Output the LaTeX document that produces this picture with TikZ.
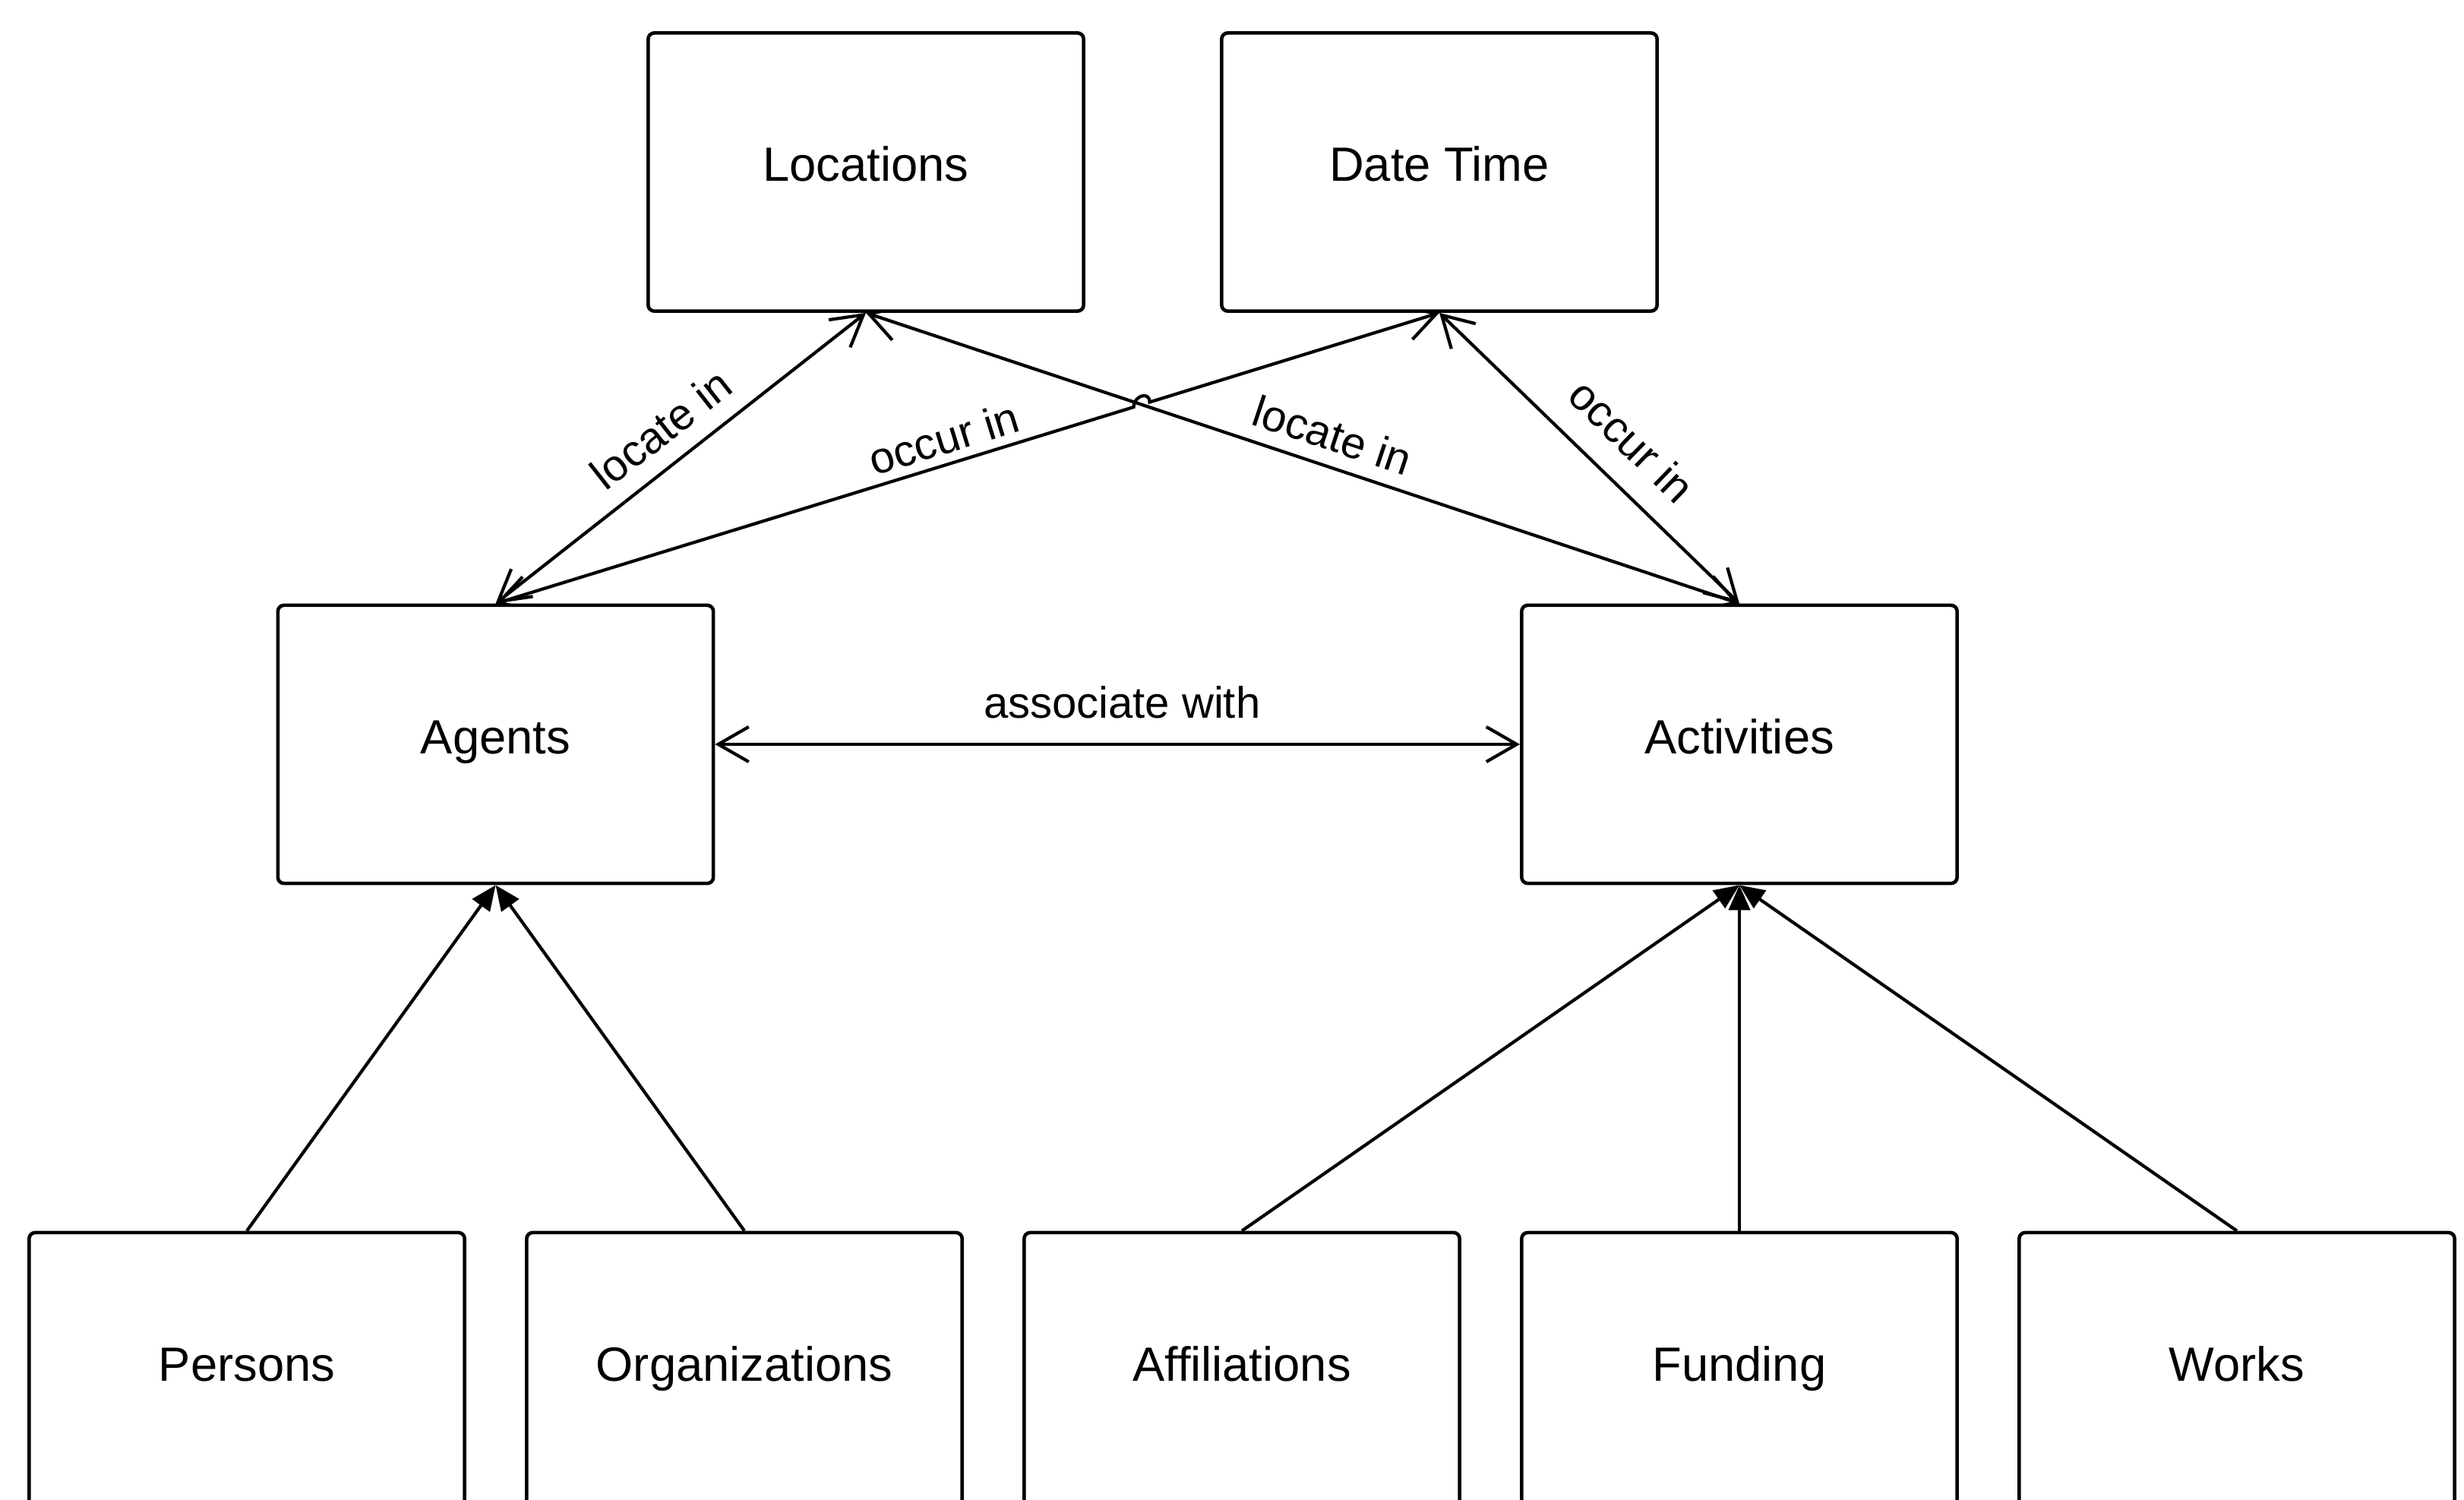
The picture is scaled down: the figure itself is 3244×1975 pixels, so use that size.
\documentclass[tikz,border=0pt]{standalone}
\usepackage{fontspec}
\setmainfont{Liberation Sans}
\usetikzlibrary{arrows.meta,calc}
\pgfdeclarelayer{bg}
\pgfsetlayers{bg,main}
\begin{document}
\begin{tikzpicture}[x=0.01cm,y=-0.01cm,
  box/.style={draw, line width=1.3pt, rounded corners=0.08cm, fill=white,
    minimum width=5.73cm, minimum height=3.66cm, inner sep=0pt,
    text height=0.95em, text depth=0.25em,
    font=\fontsize{18}{21}\selectfont},
  conn/.style={line width=1.2pt},
  lbl/.style={font=\fontsize{16.5}{19}\selectfont, inner sep=0pt},
  barb/.tip={Straight Barb[length=4mm,width=4.6mm]},
  isa/.tip={Triangle[length=3.3mm,width=2.8mm]}
]
\useasboundingbox (0,0) rectangle (3244,1975);

\node[box] (loc) at (1140,226.5) {Locations};
\node[box] (dt)  at (1895,226.5) {Date Time};
\node[box] (ag)  at (652.5,980) {Agents};
\node[box] (act) at (2290,980) {Activities};
\node[box] (per) at (325,1806) {Persons};
\node[box] (org) at (980,1806) {Organizations};
\node[box] (aff) at (1635,1806) {Affiliations};
\node[box] (fun) at (2290,1806) {Funding};
\node[box] (wor) at (2945,1806) {Works};

\begin{pgfonlayer}{bg}
\draw[conn, barb-barb] (ag) -- node[lbl, midway, above=0.32cm, xshift=0.06cm] {associate with} (act);

\draw[conn, barb-barb] (ag.north) -- node[lbl, sloped, pos=0.505, above=0.23cm] {locate in} (loc.south);
\draw[conn, barb-barb] (loc.south) -- node[lbl, sloped, pos=0.523, above=0.18cm] {locate in} (act.north);
\draw[conn, barb-barb] (dt.south) -- node[lbl, sloped, pos=0.544, above=0.32cm] {occur in} (act.north);

\coordinate (X) at (intersection of ag.north--dt.south and loc.south--act.north);
\coordinate (h1) at ($(X)!0.11cm!(ag.north)$);
\coordinate (h2) at ($(X)!0.11cm!(dt.south)$);
\draw[conn, barb-barb] (ag.north) -- node[lbl, sloped, pos=0.714, above=0.11cm] {occur in} (h1)
  .. controls +(0,-15) and +(0,-15) .. (h2) -- (dt.south);

\draw[conn, -isa] (per.north) -- (ag.south);
\draw[conn, -isa] (org.north) -- (ag.south);
\draw[conn, -isa] (aff.north) -- (act.south);
\draw[conn, -isa] (fun.north) -- (act.south);
\draw[conn, -isa] (wor.north) -- (act.south);
\end{pgfonlayer}
\end{tikzpicture}
\end{document}
